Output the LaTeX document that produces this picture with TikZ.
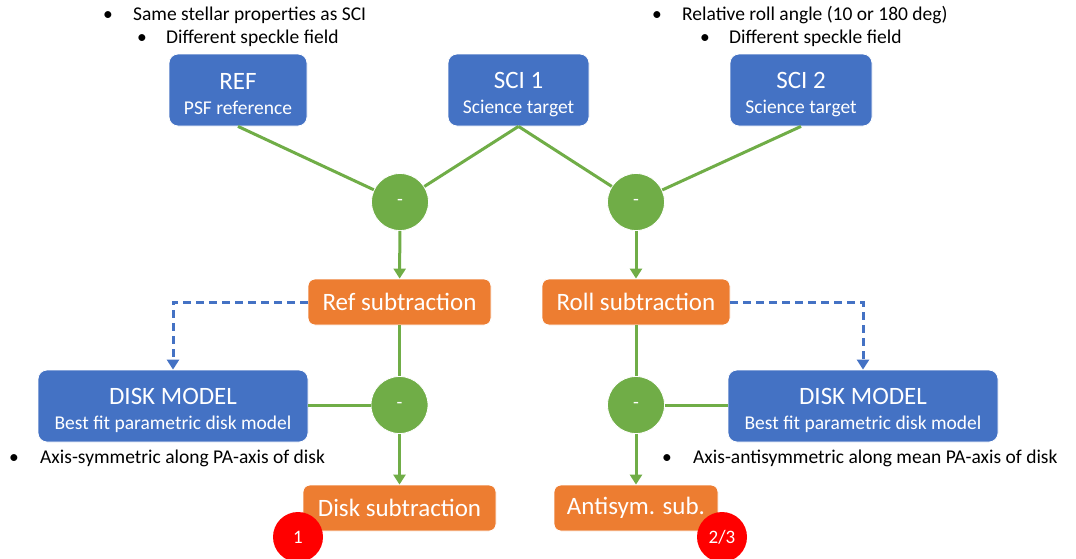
\documentclass[tikz,border=0pt]{standalone}
\usepackage{fontspec}
\setmainfont{Carlito}
\usetikzlibrary{arrows.meta}
\definecolor{boxblue}{HTML}{4472C4}
\definecolor{boxorange}{HTML}{ED7D31}
\definecolor{opgreen}{HTML}{70AD47}
\definecolor{markred}{HTML}{FF0000}
% title line of a two-line box, with a strut that lowers the block slightly
\newcommand{\ttl}[1]{{\fontsize{25}{25}\selectfont\rule{0pt}{25pt}#1}}
\tikzset{
  srcbox/.style={draw=white, line width=0.8pt, fill=boxblue, rounded corners=9pt,
    text=white, align=center, inner sep=0pt, minimum height=72pt,
    font=\fontsize{19.5}{25}\selectfont},
  resbox/.style={draw=white, line width=0.8pt, fill=boxorange, rounded corners=7pt,
    text=white, inner sep=0pt, minimum height=46pt, font=\fontsize{25}{28}\selectfont},
  minus/.style={circle, fill=opgreen, draw=white, line width=0.8pt, minimum size=57pt,
    inner sep=0pt, text=white, font=\fontsize{19}{22}\selectfont},
  tag/.style={circle, fill=markred, minimum size=50pt, inner sep=0pt, text=white,
    font=\fontsize{19}{22}\selectfont},
  link/.style={draw=opgreen, line width=3pt},
  flow/.style={link, -{Triangle[width=12pt,length=10pt]}},
  feed/.style={draw=boxblue, line width=3pt, dash pattern=on 8pt off 5pt,
    -{Triangle[width=12pt,length=10pt]}},
  note/.style={anchor=base west, inner sep=0pt, font=\fontsize{19.5}{22}\selectfont},
}
\begin{document}
\begin{tikzpicture}[x=1pt, y=-1pt]
\useasboundingbox (0,0) rectangle (1076,558);

% input frames
\node[srcbox, minimum width=138pt] (ref)  at (238,90)   {\ttl{REF}\\PSF reference};
\node[srcbox, minimum width=141pt] (sci1) at (518.5,90) {\ttl{SCI 1}\\Science target};
\node[srcbox, minimum width=142pt] (sci2) at (801,90)   {\ttl{SCI 2}\\Science target};

% subtraction operators
\node[minus] (m1) at (400,202) {-};
\node[minus] (m2) at (636,202) {-};
\node[minus] (m3) at (399.5,405) {-};
\node[minus] (m4) at (636,405) {-};

% intermediate and final products
\node[resbox, minimum width=183pt] (refsub)  at (399.5,302) {Ref subtraction};
\node[resbox, minimum width=188pt] (rollsub) at (636,302)   {Roll subtraction};
\node[resbox, minimum width=193pt] (disksub) at (399.5,508) {Disk subtraction};
\node[resbox, minimum width=164pt] (antisub) at (636,508)   {Antisym. sub.};

% disk models
\node[srcbox, minimum width=270pt] (dml) at (173,406) {\ttl{DISK MODEL}\\Best fit parametric disk model};
\node[srcbox, minimum width=270pt] (dmr) at (863,406) {\ttl{DISK MODEL}\\Best fit parametric disk model};

% connectors
\draw[link] (ref.south) -- (m1);
\draw[link] (sci1.south) -- (m1);
\draw[link] (sci1.south) -- (m2);
\draw[link] (sci2.south) -- (m2);
\draw[flow] (m1) -- (refsub);
\draw[flow] (m2) -- (rollsub);
\draw[link] (refsub) -- (m3);
\draw[link] (rollsub) -- (m4);
\draw[link] (dml.east |- m3) -- (m3);
\draw[link] (m4) -- (dmr.west |- m4);
\draw[flow] (m3) -- (disksub);
\draw[flow] (m4) -- (antisub);
\draw[feed] (refsub.west) -| (dml.north);
\draw[feed] (rollsub.east) -| (dmr.north);

% result tags
\node[tag] (t1) at (298,537) {1};
\node[tag] (t2) at (722,537) {2/3};

% notes
\node[note] (b1) at (103,20) {•};
\node[note] (n1) at (133,20) {Same stellar properties as SCI};
\node[note] (b2) at (137,43) {•};
\node[note] (n2) at (166,43) {Different speckle field};
\node[note] (b3) at (652,20) {•};
\node[note] (n3) at (682,20) {Relative roll angle (10 or 180 deg)};
\node[note] (b4) at (700,43) {•};
\node[note] (n4) at (729,43) {Different speckle field};
\node[note] (b5) at (9,463) {•};
\node[note] (n5) at (40,463) {Axis-symmetric along PA-axis of disk};
\node[note] (b6) at (662,463) {•};
\node[note] (n6) at (693,463) {Axis-antisymmetric along mean PA-axis of disk};
\end{tikzpicture}
\end{document}
